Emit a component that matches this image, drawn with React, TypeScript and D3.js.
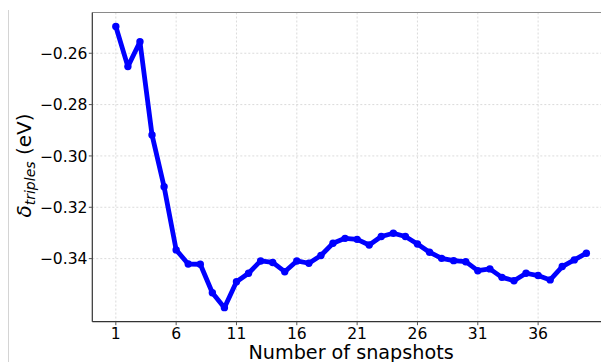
import React from "react";
import * as d3 from "d3";

const snapshots: number[] = Array.from({ length: 40 }, (_, i) => i + 1);
const deltaTriples: number[] = [
  -0.2496, -0.2652, -0.2555, -0.2918, -0.312, -0.3366, -0.3421, -0.3422, -0.3533, -0.3591,
  -0.349, -0.3457, -0.3409, -0.3415, -0.3451, -0.3409, -0.3418, -0.3388, -0.334, -0.3321,
  -0.3325, -0.3347, -0.3314, -0.3301, -0.3314, -0.3343, -0.3375, -0.3399, -0.3408, -0.3412,
  -0.3447, -0.344, -0.3473, -0.3486, -0.3457, -0.3466, -0.3483, -0.3431, -0.3405, -0.3379,
];
const xTicks: number[] = [1, 6, 11, 16, 21, 26, 31, 36];
const yTicks: number[] = [-0.26, -0.28, -0.3, -0.32, -0.34];

const W = 601;
const H = 362;
const left = 92.3;
const right = 609.9;
const top = 12.5;
const bottom = 321.7;
const FONT = "DejaVu Sans, sans-serif";

export default function App() {
  const xmin = d3.min(snapshots)!;
  const xmax = d3.max(snapshots)!;
  const xm = (xmax - xmin) * 0.05;
  const ymin = d3.min(deltaTriples)!;
  const ymax = d3.max(deltaTriples)!;
  const ym = (ymax - ymin) * 0.05;
  const x = d3.scaleLinear().domain([xmin - xm, xmax + xm]).range([left, right]);
  const y = d3.scaleLinear().domain([ymin - ym, ymax + ym]).range([bottom, top]);
  const pts: [number, number][] = snapshots.map((s, i) => [s, deltaTriples[i]]);
  const line = d3
    .line<[number, number]>()
    .x((d) => x(d[0]))
    .y((d) => y(d[1]));
  const fmt = (v: number) => v.toFixed(2).replace("-", "\u2212");

  return (
    <div style={{ position: "absolute", left: 0, top: 0 }}>
      <svg width={W} height={H} style={{ display: "block", background: "#fff" }}>
        <line x1={8.5} x2={8.5} y1={10} y2={H} stroke="#d4d4d4" strokeWidth={1} />
        {/* grid */}
        <g stroke="#cccccc" strokeWidth={0.7} strokeDasharray="2,2">
          {xTicks.map((t) => (
            <line key={"gx" + t} x1={x(t)} x2={x(t)} y1={top} y2={bottom} />
          ))}
          {yTicks.map((t) => (
            <line key={"gy" + t} x1={left} x2={W} y1={y(t)} y2={y(t)} />
          ))}
        </g>
        {/* spines */}
        <line x1={left} x2={W} y1={top} y2={top} stroke="#8a8a8a" strokeWidth={1.2} />
        <line x1={left} x2={left} y1={top} y2={bottom} stroke="#333" strokeWidth={1.2} />
        <line x1={left} x2={W} y1={bottom} y2={bottom} stroke="#333" strokeWidth={1.2} />
        {/* ticks */}
        <g stroke="#555" strokeWidth={1}>
          {xTicks.map((t) => (
            <line key={"tx" + t} x1={x(t)} x2={x(t)} y1={bottom} y2={bottom + 3.5} />
          ))}
          {yTicks.map((t) => (
            <line key={"ty" + t} x1={left - 3.5} x2={left} y1={y(t)} y2={y(t)} />
          ))}
        </g>
        <g fontFamily={FONT} fontSize={15.6} fill="#000">
          {xTicks.map((t) => (
            <text key={"lx" + t} x={x(t)} y={338.5} textAnchor="middle">
              {t}
            </text>
          ))}
          {yTicks.map((t) => (
            <text key={"ly" + t} x={87.5} y={y(t)} dy="0.36em" textAnchor="end">
              {fmt(t)}
            </text>
          ))}
        </g>
        {/* data */}
        <path d={line(pts) || ""} fill="none" stroke="#0000ff" strokeWidth={4.8} strokeLinejoin="round" />
        <g fill="#0000ff">
          {pts.map((d, i) => (
            <circle key={i} cx={x(d[0])} cy={y(d[1])} r={3.7} />
          ))}
        </g>
        {/* labels */}
        <text x={(left + right) / 2} y={359} textAnchor="middle" fontFamily={FONT} fontSize={19.2} fill="#000">
          Number of snapshots
        </text>
        <text
          transform={`translate(31,165.5) rotate(-90)`}
          textAnchor="middle"
          fontFamily={FONT}
          fontSize={20}
          fill="#000"
        >
          <tspan fontStyle="italic">δ</tspan>
          <tspan fontStyle="italic" fontSize={14} dy={3.6}>triples</tspan>
          <tspan dy={-3.6}> (eV)</tspan>
        </text>
      </svg>
    </div>
  );
}
